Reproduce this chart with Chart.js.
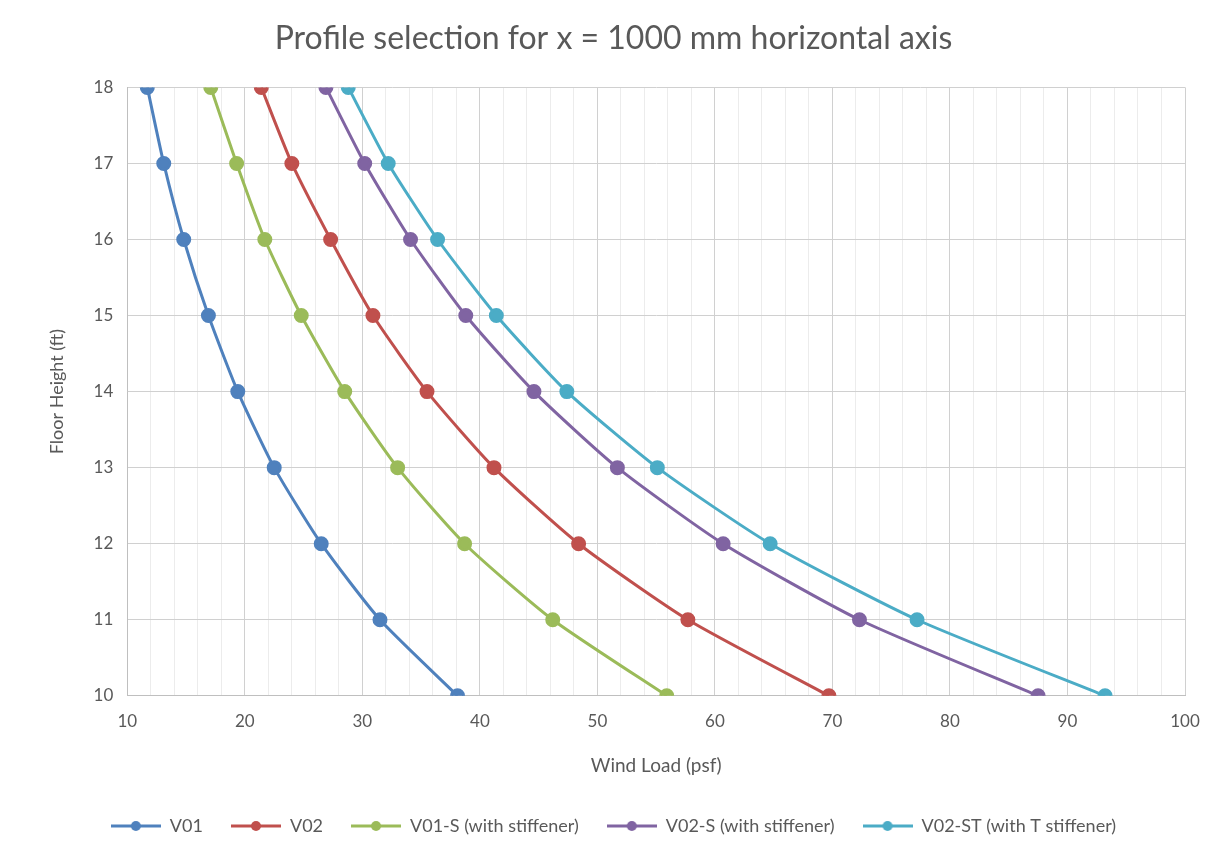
<!DOCTYPE html>
<html>
<head>
<meta charset="utf-8">
<script src="https://cdn.jsdelivr.net/npm/chart.js@4"></script>
<style>
  html, body { margin: 0; padding: 0; background: #fff; }
  #wrap { width: 1228px; height: 855px; }
</style>
</head>
<body>
<div id="wrap"><canvas id="myChart1"></canvas></div>
<script>
// floor heights (y) and wind load per profile (x)
const floors = [18, 17, 16, 15, 14, 13, 12, 11, 10];
const v01   = [11.7, 13.1, 14.8, 16.9, 19.4, 22.5, 26.5, 31.5, 38.1];
const v02   = [21.4, 24.0, 27.3, 30.9, 35.5, 41.2, 48.4, 57.7, 69.7];
const v01s  = [17.1, 19.3, 21.7, 24.8, 28.5, 33.0, 38.7, 46.2, 55.9];
const v02s  = [26.9, 30.2, 34.1, 38.8, 44.6, 51.7, 60.7, 72.3, 87.5];
const v02st = [28.8, 32.2, 36.4, 41.4, 47.4, 55.1, 64.7, 77.2, 93.2];

const seriesNames = ['V01', 'V02', 'V01-S (with stiffener)', 'V02-S (with stiffener)', 'V02-ST (with T stiffener)'];
const seriesValues = [v01, v02, v01s, v02s, v02st];
const colors = ['#4F81BD', '#C0504D', '#9BBB59', '#8064A2', '#4BACC6'];

function legendMark(color){
  let c = document.createElement('canvas');
  c.width = 50; c.height = 14;
  let g = c.getContext('2d');
  g.strokeStyle = color;
  g.lineWidth = 3;
  g.beginPath(); g.moveTo(0, 7); g.lineTo(50, 7); g.stroke();
  g.fillStyle = color;
  g.beginPath(); g.arc(25, 7, 5, 0, Math.PI*2); g.fill();
  return c;
}
const marks = colors.map(legendMark);

const datasets = seriesNames.map(function(name, k){
  return {
    label: name,
    data: floors.map(function(f, i){ return {x: seriesValues[k][i], y: f}; }),
    borderColor: colors[k],
    backgroundColor: colors[k],
    borderWidth: 3,
    pointRadius: 6,
    pointHoverRadius: 6,
    tension: 0.2,
    showLine: true
  };
});

const txt = '#595959';
Chart.defaults.font.family = 'Lato, "Open Sans", sans-serif';
Chart.defaults.color = txt;

new Chart(document.getElementById('myChart1'), {
  type: 'scatter',
  data: { datasets: datasets },
  options: {
    responsive: true,
    maintainAspectRatio: false,
    animation: false,
    layout: { padding: { left: 42, right: 43, top: 8, bottom: 10 } },
    plugins: {
      title: {
        display: true,
        text: 'Profile selection for x = 1000 mm horizontal axis',
        font: { size: 32, weight: 'normal' },
        color: txt,
        padding: { top: 11, bottom: 30 }
      },
      legend: {
        position: 'bottom',
        labels: {
          font: { size: 18 },
          color: txt,
          usePointStyle: true,
          pointStyleWidth: 50,
          boxWidth: 50,
          boxHeight: 14,
          padding: 28,
          generateLabels: function(chart){
            return chart.data.datasets.map(function(ds, i){
              return { text: ds.label, pointStyle: marks[i], datasetIndex: i, fontColor: txt, hidden: false, lineWidth: 0 };
            });
          }
        }
      },
      tooltip: { enabled: false }
    },
    scales: {
      x: {
        type: 'linear',
        min: 10, max: 100,
        ticks: {
          stepSize: 2,
          autoSkip: false,
          maxRotation: 0,
          padding: 16,
          font: { size: 17 },
          color: txt,
          callback: function(v){ return v % 10 === 0 ? v : ''; }
        },
        grid: {
          color: function(ctx){ return ctx.tick && ctx.tick.value % 10 === 0 ? '#d0d0d0' : '#ececec'; },
          drawTicks: false
        },
        border: { color: '#bfbfbf' },
        title: { display: true, text: 'Wind Load (psf)', font: { size: 19 }, color: txt, padding: { top: 6, bottom: 12 } }
      },
      y: {
        type: 'linear',
        min: 10, max: 18,
        ticks: { stepSize: 1, font: { size: 17 }, color: txt, padding: 14 },
        grid: { color: '#d0d0d0', drawTicks: false },
        border: { color: '#bfbfbf' },
        title: { display: true, text: 'Floor Height (ft)', font: { size: 18 }, color: txt, padding: { bottom: 12 } }
      }
    }
  }
});
</script>
</body>
</html>
